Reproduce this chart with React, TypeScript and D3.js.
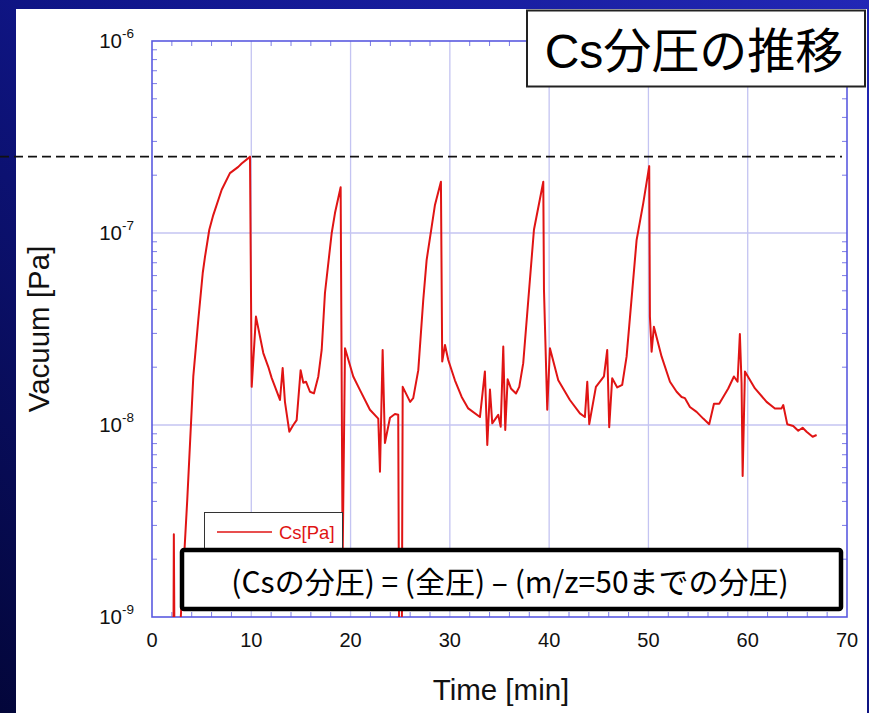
import * as d3 from 'd3';

// Cs partial pressure over time (min, Pa)
const timeMin = [
  2.15, 2.2, 2.28, 2.85, 2.9, 3.55, 4.16, 4.66, 5.11, 5.34, 5.77, 6.17, 7.02, 7.85, 8.69, 9.03, 9.77, 9.87,
  10.04, 10.47, 11.21, 11.71, 12.05, 12.89, 13.16, 13.39, 13.83, 14.23, 14.57, 14.97, 15.24, 15.51, 15.91,
  16.31, 16.75, 17.09, 17.42, 18.1, 18.43, 19.0, 19.2, 19.44, 20.27, 20.95, 21.95, 22.79, 22.96, 23.23,
  23.46, 23.97, 24.47, 24.8, 24.9, 25.15, 25.25, 26.0, 26.31, 26.82, 27.32, 27.66, 28.17, 28.5, 29.1,
  29.23, 29.51, 29.84, 30.51, 31.19, 31.85, 33.03, 33.53, 33.77, 34.04, 34.27, 34.87, 35.12, 35.38, 35.58,
  35.82, 36.15, 36.66, 36.99, 37.39, 37.9, 38.47, 39.41, 39.48, 39.81, 40.08, 40.92, 42.09, 43.1, 43.6,
  43.84, 44.04, 44.71, 45.52, 45.85, 46.05, 46.35, 46.86, 47.36, 47.8, 48.81, 49.48, 50.08, 50.15, 50.32,
  50.55, 51.33, 52.17, 52.84, 53.34, 53.68, 54.18, 54.85, 55.52, 56.12, 56.6, 57.13, 58.04, 58.61, 58.98,
  59.21, 59.38, 59.49, 59.72, 60.73, 61.9, 62.74, 63.41, 63.58, 63.98, 64.58, 65.09, 65.53, 65.93, 66.54,
  66.94,
];
const csPa = [
  5e-10, 2.7e-9, 5e-10, 5e-10, 1e-9, 4.07e-9, 1.79e-8, 3.52e-8, 6.19e-8, 7.53e-8, 1.04e-7, 1.24e-7, 1.68e-7,
  2.05e-7, 2.21e-7, 2.3e-7, 2.47e-7, 2.5e-7,
  1.58e-8, 3.67e-8, 2.37e-8, 2.01e-8, 1.76e-8, 1.35e-8, 1.98e-8, 1.32e-8, 9.23e-9, 1.0e-8, 1.06e-8, 1.93e-8,
  1.66e-8, 1.68e-8, 1.49e-8, 1.46e-8, 1.79e-8, 2.46e-8, 4.87e-8, 1.0e-7, 1.27e-7, 1.73e-7, 2e-9, 2.51e-8,
  1.79e-8, 1.52e-8, 1.2e-8, 1.08e-8, 5.71e-9, 2.46e-8, 8.06e-9, 1.09e-8, 1.14e-8, 1.13e-8, 5e-10, 5e-10,
  1.58e-8, 1.32e-8, 1.38e-8, 1.93e-8, 4.48e-8, 7.23e-8, 1.08e-7, 1.4e-7, 1.85e-7,
  2.14e-8, 2.61e-8, 2.18e-8, 1.71e-8, 1.4e-8, 1.22e-8, 1.1e-8, 1.9e-8, 7.87e-9, 1.53e-8, 1.02e-8, 1.13e-8,
  9.8e-9, 2.56e-8, 9.42e-9, 1.73e-8, 1.55e-8, 1.46e-8, 1.58e-8, 2.1e-8, 4.48e-8, 1.04e-7, 1.85e-7, 5.05e-8,
  1.2e-8, 2.51e-8, 1.71e-8, 1.35e-8, 1.15e-8, 1.1e-8, 1.68e-8, 1.01e-8, 1.58e-8, 1.79e-8, 2.46e-8, 9.73e-9,
  1.75e-8, 1.57e-8, 1.62e-8, 2.27e-8, 9.2e-8, 1.43e-7, 2.23e-7, 3.67e-8, 2.41e-8, 3.25e-8, 2.27e-8, 1.68e-8,
  1.49e-8, 1.4e-8, 1.38e-8, 1.24e-8, 1.17e-8, 1.08e-8, 1.01e-8, 1.29e-8, 1.29e-8, 1.55e-8, 1.79e-8, 1.68e-8,
  2.98e-8, 1.65e-8, 5.42e-9, 1.9e-8, 1.55e-8, 1.32e-8, 1.22e-8, 1.22e-8, 1.27e-8, 1.01e-8, 9.89e-9, 9.33e-9,
  9.68e-9, 9.23e-9, 8.69e-9, 8.87e-9,
];
const thresholdPa = 2.5e-7;

const xTicks = [0, 10, 20, 30, 40, 50, 60, 70];
const yExponents = [-6, -7, -8, -9];

const W = 869;
const H = 713;
const M = { left: 152, right: 847, top: 41, bottom: 617 };

export default function App() {
  const x = d3.scaleLinear().domain([0, 70]).range([M.left, M.right]);
  const y = d3.scaleLog().domain([1e-9, 1e-6]).range([M.bottom, M.top]);

  const pts: [number, number][] = timeMin.map((t, i) => [t, csPa[i]]);
  const line = d3
    .line<[number, number]>()
    .x(d => x(d[0]))
    .y(d => y(d[1]));

  const xMinor = d3.range(0, 70, 2).filter(v => v % 10 !== 0);
  const yMinor: number[] = [];
  for (let e = -9; e < -6; e++) for (let m = 2; m <= 9; m++) yMinor.push(m * Math.pow(10, e));

  const frame = '#5a5ae0';
  const grid = '#c4c4f2';
  const tickFont = '"Liberation Sans", Arial, sans-serif';
  const jpFont = '"Noto Sans CJK JP", "Liberation Sans", sans-serif';

  return (
    <svg width={W} height={H} style={{ position: 'fixed', left: 0, top: 0 }}>
      <defs>
        <linearGradient id="bg" x1="1" y1="0" x2="0" y2="1">
          <stop offset="0" stopColor="#2227b6" />
          <stop offset="0.45" stopColor="#10168a" />
          <stop offset="1" stopColor="#03063a" />
        </linearGradient>
        <clipPath id="plot">
          <rect x={M.left} y={M.top} width={M.right - M.left} height={M.bottom - M.top} />
        </clipPath>
      </defs>
      <rect x={0} y={0} width={W} height={H} fill="url(#bg)" />
      <rect x={16} y={9} width={851} height={H - 9} fill="#ffffff" />

      {/* grid */}
      {xTicks.slice(1, -1).map(t => (
        <line key={'gx' + t} x1={x(t)} x2={x(t)} y1={M.top} y2={M.bottom} stroke={grid} strokeWidth={1.3} />
      ))}
      {[-7, -8].map(e => (
        <line key={'gy' + e} x1={M.left} x2={M.right} y1={y(Math.pow(10, e))} y2={y(Math.pow(10, e))} stroke={grid} strokeWidth={1.3} />
      ))}

      {/* minor ticks */}
      {xMinor.map(t => (
        <g key={'mx' + t} stroke="#7c7ce6" strokeWidth={1}>
          <line x1={x(t)} x2={x(t)} y1={M.bottom} y2={M.bottom - 5} />
          <line x1={x(t)} x2={x(t)} y1={M.top} y2={M.top + 5} />
        </g>
      ))}
      {yMinor.map(v => (
        <g key={'my' + v} stroke="#7c7ce6" strokeWidth={1}>
          <line x1={M.left} x2={M.left + 5} y1={y(v)} y2={y(v)} />
          <line x1={M.right} x2={M.right - 5} y1={y(v)} y2={y(v)} />
        </g>
      ))}

      <rect x={M.left} y={M.top} width={M.right - M.left} height={M.bottom - M.top} fill="none" stroke={frame} strokeWidth={1.6} />

      {/* data */}
      <path d={line(pts) ?? ''} fill="none" stroke="#e01414" strokeWidth={2} strokeLinejoin="round" clipPath="url(#plot)" />

      {/* threshold */}
      <line x1={0} x2={842} y1={y(thresholdPa)} y2={y(thresholdPa)} stroke="#111" strokeWidth={1.6} strokeDasharray="9 5" />

      {/* tick labels */}
      {xTicks.map(t => (
        <text key={'tx' + t} x={x(t)} y={647} textAnchor="middle" fontFamily={tickFont} fontSize={20} fill="#111">
          {t}
        </text>
      ))}
      {yExponents.map(e => (
        <text key={'ty' + e} x={134} y={y(Math.pow(10, e)) + 7} textAnchor="end" fontFamily={tickFont} fontSize={20.5} fill="#111">
          10
          <tspan dy={-10} fontSize={13.5}>
            {e}
          </tspan>
        </text>
      ))}

      <text x={501} y={700} textAnchor="middle" fontFamily={tickFont} fontSize={29.5} fill="#111">
        Time [min]
      </text>
      <text
        transform={`translate(49,${(M.top + M.bottom) / 2}) rotate(-90)`}
        textAnchor="middle"
        fontFamily={tickFont}
        fontSize={29.5}
        fill="#111"
      >
        Vacuum [Pa]
      </text>

      {/* legend */}
      <rect x={204.5} y={512.5} width={138} height={50} fill="#fff" stroke="#333" strokeWidth={1} />
      <line x1={217} x2={272} y1={532} y2={532} stroke="#e01414" strokeWidth={1.5} />
      <text x={279} y={539} fontFamily={tickFont} fontSize={18.5} fill="#e01414">
        Cs[Pa]
      </text>

      {/* note */}
      <rect x={182} y={550} width={659} height={59} rx={2} fill="#fff" stroke="#000" strokeWidth={4.5} />
      <text x={510} y={593} textAnchor="middle" fontFamily={jpFont} fontSize={30} fill="#000">
        (Csの分圧) = (全圧) – (m/z=50までの分圧)
      </text>

      {/* title */}
      <rect x={527} y={10.5} width={338} height={76} fill="#fff" stroke="#222" strokeWidth={2} />
      <text x={694} y={68} textAnchor="middle" fontFamily={'"Liberation Sans", "Noto Sans CJK JP", sans-serif'} fontSize={48} fill="#000">
        Cs分圧の推移
      </text>
    </svg>
  );
}
